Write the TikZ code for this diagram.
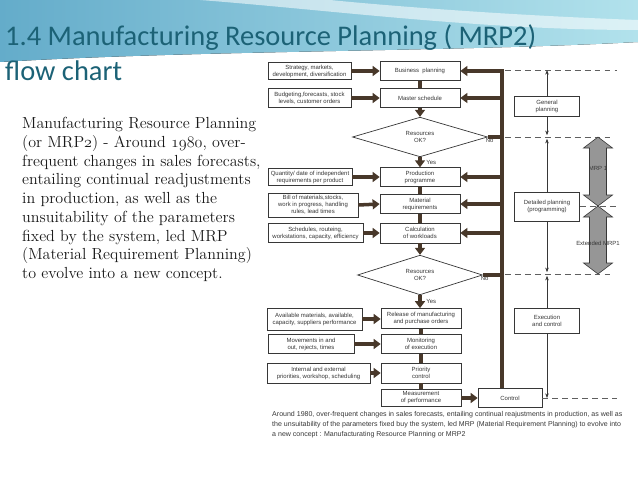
\documentclass[tikz,border=0pt]{standalone}
\usepackage{fix-cm}
\usepackage{fontspec}
\usetikzlibrary{positioning,shapes.geometric,arrows.meta}
\newfontfamily\titlefont{Carlito}
\newfontfamily\scanfont{Liberation Sans}
\definecolor{ttl}{RGB}{28,98,118}
\definecolor{ink}{RGB}{55,55,55}
\definecolor{brn}{RGB}{72,56,42}
\definecolor{bandL}{RGB}{100,172,202}
\definecolor{bandR}{RGB}{178,226,236}
\definecolor{blockgray}{RGB}{150,150,150}

\begin{document}
\begin{tikzpicture}[
    x=0.03cm, y=-0.03cm,
    mainbox/.style={draw=ink, fill=white, line width=0.6pt, text=ink, align=center,
                    font=\scanfont\fontsize{5.1}{5.9}\selectfont, inner sep=0pt,
                    minimum width=2.4cm, minimum height=0.56cm},
    inbox/.style={mainbox},
    test/.style={mainbox, diamond, minimum width=4cm, minimum height=1cm},
    flow/.style={draw=brn, line width=3pt, -{Triangle[length=6pt,width=8.5pt]}},
    link/.style={draw=brn, line width=3pt},
    span/.style={draw=ink, line width=0.5pt, -{Stealth[length=4pt,width=3pt]}},
    level/.style={draw=ink!80, line width=0.6pt, dash pattern=on 5pt off 3.5pt},
    tag/.style={text=ink, font=\scanfont\fontsize{5.1}{5.9}\selectfont, inner sep=1pt},
    block/.style={draw=ink, fill=blockgray, line width=0.5pt}
  ]
  \useasboundingbox (0,0) rectangle (638,479);

  % slide header
  \fill[left color=bandL, right color=bandR] (0,0) -- (638,0) -- (638,42)
    .. controls (450,52) and (200,50) .. (0,62) -- cycle;
  \fill[white, opacity=0.55] (200,0) .. controls (330,10) and (480,30) .. (638,30)
    -- (638,20) .. controls (500,15) and (380,5) .. (330,0) -- cycle;
  \node[anchor=base west, inner sep=0pt, text=ttl, font=\titlefont\fontsize{24.3}{29}\selectfont]
    (title) at (5,46) {1.4 Manufacturing Resource Planning ( MRP2)};
  \node[anchor=base west, inner sep=0pt, text=ttl, font=\titlefont\fontsize{24.3}{29}\selectfont]
    (titletwo) at (5,81) {flow chart};

  \node[anchor=north west, align=left, inner sep=0pt, text=black!90,
        font=\fontsize{13.7}{16}\selectfont] (intro) at (22,117) {
    Manufacturing Resource Planning\\
    (or MRP$\mathnormal{2}$) - Around $\mathnormal{1980}$, over-\\
    frequent changes in sales forecasts,\\
    entailing continual readjustments\\
    in production, as well as the\\
    unsuitability of the parameters\\
    fixed by the system, led MRP\\
    (Material Requirement Planning)\\
    to evolve into a new concept.};

  % main chain
  \node[mainbox] (bp) at (420,71) {Business\ \ planning};
  \node[mainbox] (ms) at (420,98) {Master schedule};
  \node[test, minimum width=4.05cm] (resa) at (420,137) {Resources\\OK?};
  \node[mainbox] (pp) at (420,177) {Production\\programme};
  \node[mainbox] (mr) at (420,204) {Material\\requirements};
  \node[mainbox, minimum height=0.6cm] (cw) at (420,233) {Calculation\\of workloads};
  \node[test, minimum width=3.75cm] (resb) at (420,275) {Resources\\OK?};
  \node[mainbox, minimum height=0.6cm] (rel) at (421,318.5) {Release of manufacturing\\and purchase orders};
  \node[mainbox] (mon) at (421,344) {Monitoring\\of execution};
  \node[mainbox, minimum height=0.6cm] (pc) at (421,373) {Priority\\control};
  \node[mainbox, minimum height=0.51cm] (mp) at (421,398) {Measurement\\of performance};
  \node[mainbox, minimum width=1.92cm, minimum height=0.57cm] (ctl) at (510,398) {Control};

  % inputs
  \node[inbox, minimum width=2.49cm, minimum height=0.51cm] (strat) at (309.5,71) {Strategy, markets,\\development, diversification};
  \node[inbox, minimum width=2.49cm, minimum height=0.57cm] (budg) at (309.5,98) {Budgeting,forecasts, stock\\levels, customer orders};
  \node[inbox, minimum width=2.52cm, minimum height=0.51cm] (qty) at (310,177) {Quantity/ date of independent\\requirements per product};
  \node[inbox, minimum width=2.7cm, minimum height=0.72cm] (bom) at (313,205) {Bill of materials,stocks,\\work in progress, handling\\rules, lead times};
  \node[inbox, minimum width=2.85cm, minimum height=0.57cm] (sched) at (315.5,233) {Schedules, routeing,\\workstations, capacity, efficiency};
  \node[inbox, minimum width=2.85cm, minimum height=0.66cm] (avail) at (314.5,319) {Available materials, available,\\capacity, suppliers performance};
  \node[inbox, minimum width=2.58cm, minimum height=0.57cm] (move) at (311,344) {Movements in and\\out, rejects, times};
  \node[inbox, minimum width=3.09cm, minimum height=0.6cm] (prio) at (318.5,373) {Internal and external\\priorities, workshop, scheduling};

  \draw[flow] (strat.east) -- (bp.west);
  \draw[flow] (budg.east) -- (ms.west);
  \draw[flow] (qty.east) -- (pp.west);
  \draw[flow] (bom.east) -- (mr.west);
  \draw[flow] (sched.east) -- (cw.west);
  \draw[flow] (avail.east) -- (rel.west |- avail.east);
  \draw[flow] (move.east) -- (mon.west);
  \draw[flow] (prio.east) -- (pc.west);
  \draw[flow] (mp.east) -- (ctl.west);

  % vertical chain
  \draw[link] (bp.south) -- (ms.north);
  \draw[flow] (ms.south) -- (resa.north);
  \draw[flow] (resa.south) -- (pp.north) node[tag, midway, right=3pt] (yesa) {Yes};
  \draw[link] (pp.south) -- (mr.north);
  \draw[link] (mr.south) -- (cw.north);
  \draw[flow] (cw.south) -- (resb.north);
  \draw[flow] (resb.south) -- (resb.south |- rel.north) node[tag, midway, right=3pt] (yesb) {Yes};
  \draw[link] (rel.south) -- (mon.north);
  \draw[link] (mon.south) -- (pc.north);
  \draw[link] (pc.south) -- (mp.north);

  % feedback
  \coordinate (fbtop) at (502,71);
  \draw[flow] (ctl.north -| fbtop) -- (fbtop) -- (bp.east);
  \draw[flow] (ms.east -| fbtop) -- (ms.east);
  \draw[flow] (pp.east -| fbtop) -- (pp.east);
  \draw[flow] (mr.east -| fbtop) -- (mr.east);
  \draw[flow] (cw.east -| fbtop) -- (cw.east);
  \draw[link] (resa.east) -- (resa.east -| fbtop);
  \draw[link] (resb.east) -- (resb.east -| fbtop);
  \node[tag, below right=0pt and -3pt of resa.east] (noa) {No};
  \node[tag, below right=0pt and -3pt of resb.east] (nob) {No};

  % planning levels
  \coordinate (lva) at (505,70);  \coordinate (lvae) at (617,70);
  \coordinate (lvb) at (505,137); \coordinate (lvbe) at (612,137);
  \coordinate (lvc) at (505,274); \coordinate (lvce) at (612,274);
  \coordinate (lvd) at (617,398);
  \coordinate (lvm) at (580,206); \coordinate (lvme) at (618,206);
  \draw[level] (lva) -- (lvae);
  \draw[level] (lvb) -- (lvbe);
  \draw[level] (lvc) -- (lvce);
  \draw[level] (ctl.east) -- (lvd);

  \node[mainbox, minimum width=1.95cm, minimum height=0.6cm] (gp) at (547,106) {General\\planning};
  \node[mainbox, minimum width=1.95cm, minimum height=0.87cm] (dp) at (547,206.5) {Detailed planning\\(programming)};
  \node[mainbox, minimum width=1.95cm, minimum height=0.75cm] (ec) at (547,320.5) {Execution\\and control};

  \draw[span] (gp.north) -- (gp.north |- lva);
  \draw[span, shorten >=1.5pt] (gp.south) -- (gp.south |- lvb);
  \draw[span, shorten >=1.5pt] (dp.north) -- (dp.north |- lvb);
  \draw[span, shorten >=1.5pt] (dp.south) -- (dp.south |- lvc);
  \draw[span, shorten >=1.5pt] (ec.north) -- (ec.north |- lvc);
  \draw[span] (ec.south) -- (ec.south |- lvd);

  % MRP 1 and extended MRP1
  \foreach \t/\b in {137/206, 206/274}
    \filldraw[block] (598,\t) -- (612.5,\t+11) -- (606.5,\t+11) -- (606.5,\b-11)
      -- (612.5,\b-11) -- (598,\b) -- (583.5,\b-11) -- (589.5,\b-11)
      -- (589.5,\t+11) -- (583.5,\t+11) -- cycle;
  \draw[level] (lvm) -- (lvme);
  \node[tag] (mrpone) at (598,168) {MRP 1};
  \node[tag] (mrpext) at (598,243) {Extended MRP1};

  \node[anchor=north west, align=left, inner sep=0pt, text=ink,
        font=\scanfont\fontsize{6}{8.6}\selectfont] (note) at (272,411) {
    Around 1980, over-frequent changes in sales forecasts, entailing continual reajustments in production, as well as\\
    the unsuitability of the parameters fixed buy the system, led MRP (Material Requirement Planning) to evolve into\\
    a new concept : Manufacturating Resource Planning or MRP2};
\end{tikzpicture}
\end{document}
